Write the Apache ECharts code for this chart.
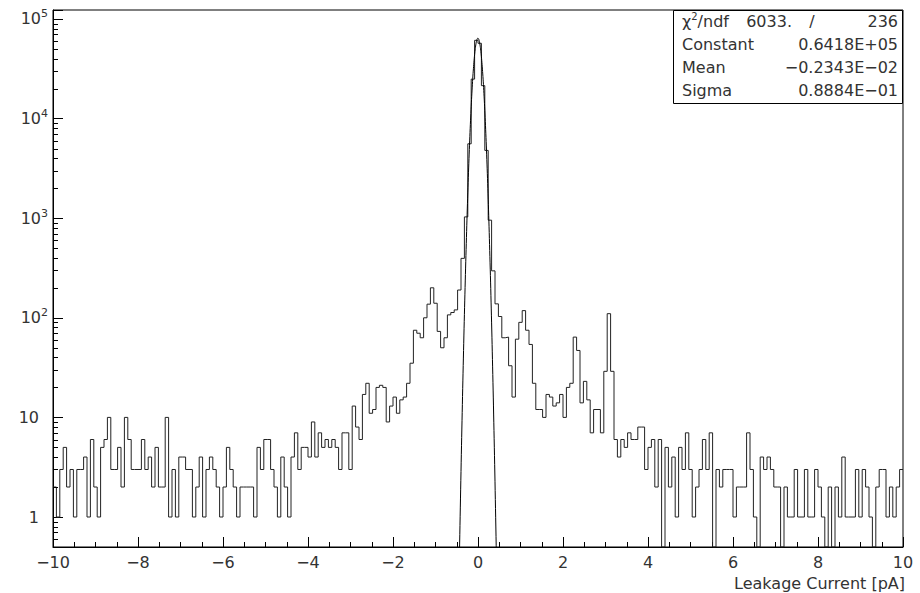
<!DOCTYPE html>
<html><head><meta charset="utf-8">
<script src="https://cdn.jsdelivr.net/npm/echarts@6/dist/echarts.min.js"></script>
<style>html,body{margin:0;padding:0;background:#fff}#c{width:920px;height:593px}</style>
</head><body><div id="c"></div>
<script>
// ---- data ----
const binLow = -10;
const binWidth = 0.08;
const counts = [
  2,1,3,5,2,3,1,3,3,4,
  1,6,2,1,5,6,10,3,3,5,
  2,10,6,3,3,3,6,3,4,2,
  5,2,2,10,1,3,1,4,4,3,
  3,1,2,4,1,3,4,3,2,1,
  2,5,3,2,1,2,2,2,2,1,
  5,3,6,6,3,2,1,4,2,1,
  4,7,3,5,5,4,9,4,7,5,
  6,5,6,5,3,7,7,3,13,8,
  6,17,22,11,12,20,21,20,9,13,
  16,11,15,16,22,35,75,70,63,100,
  137,200,140,73,50,63,107,113,120,190,
  395,1030,5580,24900,61000,57000,21400,4790,955,296,
  138,103,63,64,33,16,61,90,118,75,
  54,22,12,12,10,17,16,13,14,17,
  10,20,22,64,47,14,23,15,7,12,
  12,7,29,110,29,6,4,6,5,7,
  6,6,8,8,3,5,6,2,6,0,
  5,2,4,1,5,3,7,3,1,2,
  3,6,3,7,0,3,2,3,3,3,
  1,2,2,2,7,3,1,0,4,3,
  4,3,2,2,0,2,1,1,3,1,
  1,3,1,1,3,2,1,0,2,0,
  2,1,4,1,1,1,3,1,3,2,
  1,0,2,3,3,1,2,1,2,3
];
const xMin = -10, xMax = 10, xInterval = 2;
const yMin = 0.5, yMax = 1.23e5;
const yMinorTicks = [0.6,0.7,0.8,0.9,2,3,4,5,6,7,8,9,20,30,40,50,60,70,80,90,
  200,300,400,500,600,700,800,900,2000,3000,4000,5000,6000,7000,8000,9000,
  20000,30000,40000,50000,60000,70000,80000,90000];
// fit parameters (as shown in the stats box)
const fitConstant = 64180, fitMean = -0.002343, fitSigma = 0.08884;
const statLabels = ['Constant', 'Mean', 'Sigma'];
const statValues = ['0.6418E+05', '\u22120.2343E\u221202', '0.8884E\u221201'];
const chiText = '6033.', ndfText = '236';
const xTitle = 'Leakage Current [pA]';

// ---- build ----
const FONT = 'DejaVu Sans';
const TXT = '#333';
const histData = counts.map((c, i) => [binLow + i * binWidth, c > 0 ? c : yMin]);
histData.push([binLow + counts.length * binWidth, counts[counts.length - 1] > 0 ? counts[counts.length - 1] : yMin]);

const fitData = [];
for (let x = -0.62; x <= 0.62 + 1e-9; x += 0.004) {
  fitData.push([x, fitConstant * Math.exp(-0.5 * Math.pow((x - fitMean) / fitSigma, 2))]);
}

function minus(s) { return String(s).replace('-', '\u2212'); }

const chart = echarts.init(document.getElementById('c'), null, {renderer: 'svg'});
const boxX = 673.5, boxY = 10.5, boxW = 229, boxH = 93;
const rowY = [21, 44, 67, 90];
const LX = 682;
const graphics = [
  {type: 'rect', z: 100, shape: {x: boxX, y: boxY, width: boxW, height: boxH},
   style: {fill: '#fff', stroke: '#000', lineWidth: 1}},
  {type: 'text', z: 101, x: LX, y: rowY[0], style: {
     text: '{a|\u03c7}{s|2}{a|/ndf}', textVerticalAlign: 'middle', fill: TXT,
     rich: {a: {fontSize: 16, fontFamily: FONT, fill: TXT},
            s: {fontSize: 10, fontFamily: FONT, fill: TXT, padding: [0, 0, 10, 0]}}}},
  {type: 'text', z: 101, x: 792, y: rowY[0], style: {text: chiText, textAlign: 'right', textVerticalAlign: 'middle', fontSize: 16, fontFamily: FONT, fill: TXT}},
  {type: 'text', z: 101, x: 812, y: rowY[0], style: {text: '/', textAlign: 'center', textVerticalAlign: 'middle', fontSize: 16, fontFamily: FONT, fill: TXT}},
  {type: 'text', z: 101, x: 898, y: rowY[0], style: {text: ndfText, textAlign: 'right', textVerticalAlign: 'middle', fontSize: 16, fontFamily: FONT, fill: TXT}},
  {type: 'text', z: 101, x: 905, y: 583, style: {text: xTitle, textAlign: 'right', textVerticalAlign: 'middle', fontSize: 16, fontFamily: FONT, fill: TXT}}
];
statLabels.forEach((l, i) => {
  graphics.push({type: 'text', z: 101, x: LX, y: rowY[i + 1], style: {text: l, textVerticalAlign: 'middle', fontSize: 16, fontFamily: FONT, fill: TXT}});
  graphics.push({type: 'text', z: 101, x: 898, y: rowY[i + 1], style: {text: statValues[i], textAlign: 'right', textVerticalAlign: 'middle', fontSize: 16, fontFamily: FONT, fill: TXT}});
});

chart.setOption({
  animation: false,
  backgroundColor: '#fff',
  grid: {left: 53, right: 17, top: 10, bottom: 46, containLabel: false, outerBoundsMode: 'none',
         show: true, borderColor: '#000', borderWidth: 1, backgroundColor: 'transparent'},
  xAxis: {
    type: 'value', min: xMin, max: xMax, interval: xInterval,
    axisLine: {show: true, onZero: false, lineStyle: {color: '#000', width: 1}},
    axisTick: {show: true, inside: true, length: 10, lineStyle: {color: '#000'}},
    minorTick: {show: true, splitNumber: 4, length: 5, lineStyle: {color: '#000'}},
    splitLine: {show: false},
    axisLabel: {color: TXT, fontSize: 16, fontFamily: FONT, margin: 7, formatter: v => minus(v)}
  },
  yAxis: {
    type: 'log', logBase: 10, min: yMin, max: yMax,
    axisLine: {show: true, onZero: false, lineStyle: {color: '#000', width: 1}},
    axisTick: {show: true, inside: true, length: 10, lineStyle: {color: '#000'}},
    splitLine: {show: false},
    axisLabel: {
      margin: 5, color: TXT,
      formatter: function (v) {
        const l = Math.log10(v), e = Math.round(l);
        if (Math.abs(l - e) > 1e-6) return '';
        if (e === 0) return '{b|1}{g| }';
        if (e === 1) return '{b|10}{g| }';
        return '{b|10}{s|' + e + '}';
      },
      rich: {
        b: {fontSize: 16, fontFamily: FONT, color: TXT},
        s: {fontSize: 11, fontFamily: FONT, color: TXT, padding: [0, 0, 10, 0]},
        g: {width: 9, fontSize: 11}
      }
    }
  },
  graphic: graphics,
  series: [
    {
      type: 'custom', silent: true, z: 5,
      data: yMinorTicks.map(v => [xMin, v]),
      renderItem: function (params, api) {
        const p = api.coord([xMin, api.value(1)]);
        return {type: 'line', shape: {x1: p[0], y1: Math.round(p[1]) + 0.5, x2: p[0] + 5, y2: Math.round(p[1]) + 0.5},
                style: {stroke: '#000', lineWidth: 1}};
      }
    },
    {
      type: 'line', data: histData, step: 'end', showSymbol: false, symbol: 'none', clip: true,
      lineStyle: {color: '#222', width: 1}, silent: true
    },
    {
      type: 'line', data: fitData, showSymbol: false, symbol: 'none', clip: true, smooth: false,
      lineStyle: {color: '#000', width: 1}, silent: true
    }
  ]
});
</script>
</body></html>
